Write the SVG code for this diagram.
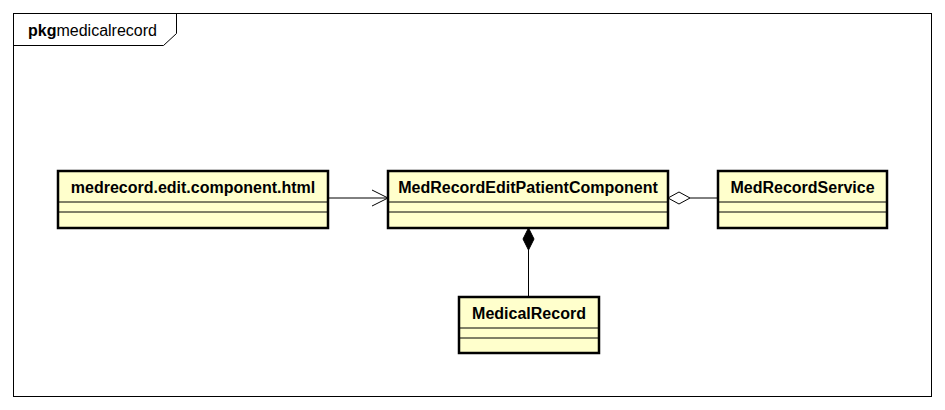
<svg xmlns="http://www.w3.org/2000/svg" width="945" height="410" viewBox="0 0 945 410">
<style>
.box{fill:#ffffcc;stroke:#000;stroke-width:2.5}
.sep{stroke:#000;stroke-width:1}
.lbl{font-family:"Liberation Sans",Arial,sans-serif;font-size:16px;font-weight:bold;fill:#000;text-anchor:middle}
.ln{stroke:#000;stroke-width:1;fill:none}
</style>
<rect x="0" y="0" width="945" height="410" fill="#fff"/>
<g id="frame">
<rect x="13.5" y="13.5" width="918" height="383" fill="none" stroke="#000" stroke-width="1"/>
<path d="M13.5 45.5 H163.5 L176.5 33.5 V13.5" fill="none" stroke="#000" stroke-width="1"/>
<text x="28" y="36" font-family="Liberation Sans,Arial,sans-serif" font-size="16" fill="#000"><tspan font-weight="bold">pkg</tspan>medicalrecord</text>
</g>
<g id="connectors">
<line class="ln" x1="329" y1="198" x2="388" y2="198"/>
<polyline class="ln" points="372,190 388,198 372,206"/>
<line class="ln" x1="690" y1="198" x2="718" y2="198"/>
<polygon points="668,198 679,192 690,198 679,204" fill="#fff" stroke="#000" stroke-width="1"/>
<line class="ln" x1="528.5" y1="250" x2="528.5" y2="297"/>
<polygon points="528.5,228 534,239 528.5,250 523,239" fill="#000" stroke="#000" stroke-width="1"/>
</g>
<g id="node-html">
<rect class="box" x="58" y="171" width="270" height="57"/>
<line class="sep" x1="58" y1="202" x2="328" y2="202"/>
<line class="sep" x1="58" y1="212" x2="328" y2="212"/>
<text class="lbl" x="193" y="193">medrecord.edit.component.html</text>
</g>
<g id="node-component">
<rect class="box" x="388" y="171" width="280" height="57"/>
<line class="sep" x1="388" y1="202" x2="668" y2="202"/>
<line class="sep" x1="388" y1="212" x2="668" y2="212"/>
<text class="lbl" x="528" y="193">MedRecordEditPatientComponent</text>
</g>
<g id="node-service">
<rect class="box" x="718" y="171" width="169" height="57"/>
<line class="sep" x1="718" y1="202" x2="887" y2="202"/>
<line class="sep" x1="718" y1="212" x2="887" y2="212"/>
<text class="lbl" x="802.5" y="193">MedRecordService</text>
</g>
<g id="node-medicalrecord">
<rect class="box" x="459" y="297" width="140" height="56"/>
<line class="sep" x1="459" y1="328" x2="599" y2="328"/>
<line class="sep" x1="459" y1="338" x2="599" y2="338"/>
<text class="lbl" x="529" y="319">MedicalRecord</text>
</g>
</svg>
